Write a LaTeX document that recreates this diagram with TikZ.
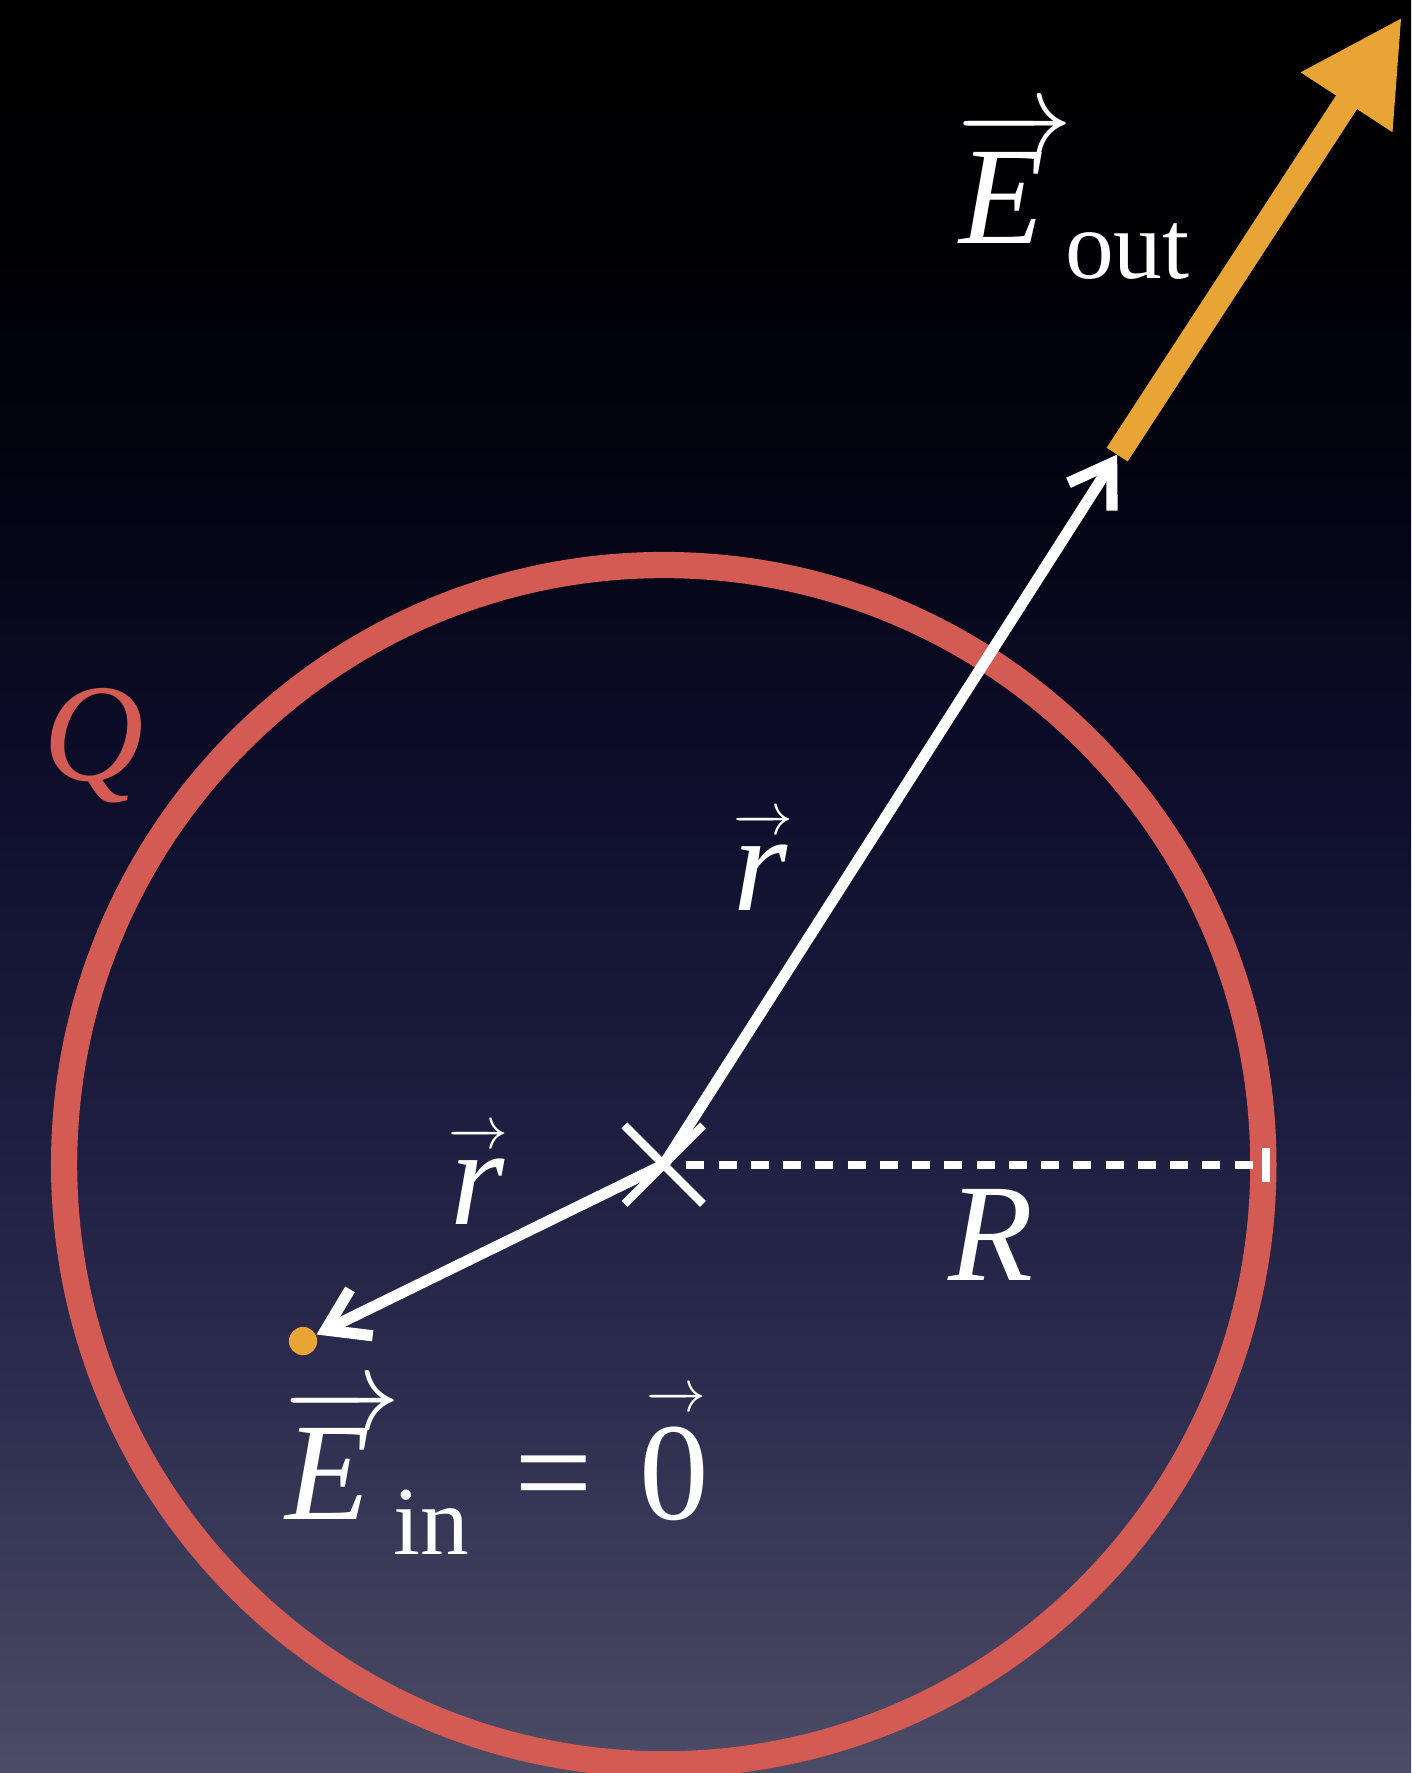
\documentclass[tikz,border=0pt]{standalone}
\usepackage{fix-cm}
\usepackage{fontspec}
\setmainfont{Liberation Serif}
\usepackage{xcolor}
\usepackage{tikz}
\usetikzlibrary{arrows.meta,shapes.misc}
\definecolor{shellred}{HTML}{D45A54}
\definecolor{fieldorange}{HTML}{E8A535}
\definecolor{sky0}{RGB}{0,0,0}
\definecolor{sky1}{RGB}{0,0,3}
\definecolor{sky2}{RGB}{4,4,20}
\definecolor{sky3}{RGB}{14,14,44}
\definecolor{sky4}{RGB}{30,30,64}
\definecolor{sky5}{RGB}{46,46,80}
\definecolor{sky6}{RGB}{76,76,102}
\pgfdeclareverticalshading{nightsky}{100bp}{color(0bp)=(sky6); color(25bp)=(sky6); color(35.1bp)=(sky5); color(43.1bp)=(sky4); color(52.7bp)=(sky3); color(60.65bp)=(sky2); color(68.6bp)=(sky1); color(75bp)=(sky0); color(100bp)=(sky0)}
\newcommand{\arrowover}[4]{\leavevmode\rlap{\kern#1\raisebox{#2}{\fontsize{#3}{#3}\selectfont\hbox to #4{\rightarrowfill}}}}
\newcommand{\lowsub}[1]{\raisebox{-0.31cm}{\fontsize{24.5}{29}\selectfont #1}}
\tikzset{
  shell/.style={draw=shellred,line width=6.6pt},
  rvec/.style={draw=white,line width=2.8pt,-{Straight Barb[length=10pt,width=13pt,line width=2.8pt]}},
  fieldvec/.style={draw=fieldorange,line width=6.3pt,-{Triangle[length=25.6pt,width=25.6pt]}},
  rline/.style={draw=white,line width=2.1pt,dash pattern=on 0.16cm off 0.125cm,shorten <=0.2cm},
  centre/.style={cross out,draw=white,line width=2.1pt,minimum size=0.62cm,inner sep=0pt},
  tickmark/.style={rectangle,fill=white,minimum width=0.07cm,minimum height=0.3cm,inner sep=0pt},
  dot/.style={circle,fill=fieldorange,minimum size=0.25cm,inner sep=0pt},
  lbl/.style={text=white,inner sep=0pt,anchor=base west,font=\fontsize{35}{42}\selectfont}
}
\begin{document}
\begin{tikzpicture}[x=0.01cm,y=-0.01cm]
  \useasboundingbox (0,0) rectangle (1248,1568);
  \shade[shading=nightsky] (0,0) rectangle (1248,1568);
  \node[centre] (ctr) at (587,1030) {};
  \draw[shell] (ctr.center) circle[radius=5.3cm];
  \node[tickmark] (edge) at (1120,1030) {};
  \node[dot] (probe) at (268,1186) {};
  \coordinate (rtip) at (988,402);
  \coordinate (etip) at (1240,15);
  \draw[rline] (ctr.center) -- (edge.west);
  \draw[fieldvec] (rtip) -- (etip);
  \draw[rvec] (ctr.center) -- (rtip);
  \draw[rvec] (ctr.center) -- (probe);
  \node[lbl,text=shellred] (qlbl) at (38,690) {\textit{Q}};
  \node[lbl] (rlbl) at (838,1132) {\textit{R}};
  \node[lbl] (rout) at (648,805) {\arrowover{0cm}{0.67cm}{15}{0.53cm}\textit{r}};
  \node[lbl] (rin) at (398,1083) {\arrowover{-0.02cm}{0.67cm}{15}{0.53cm}\textit{r}};
  \node[lbl] (eout) at (848,215) {\arrowover{-0.03cm}{0.8cm}{29}{1.03cm}\textit{E}\kern0.18cm\lowsub{out}};
  \node[lbl] (ein) at (252,1344) {\arrowover{-0.04cm}{0.8cm}{29}{1.06cm}\textit{E}\kern0.2cm\lowsub{in}\kern0.4cm=\kern0.41cm\arrowover{0.06cm}{0.96cm}{15}{0.53cm}0};
\end{tikzpicture}
\end{document}
